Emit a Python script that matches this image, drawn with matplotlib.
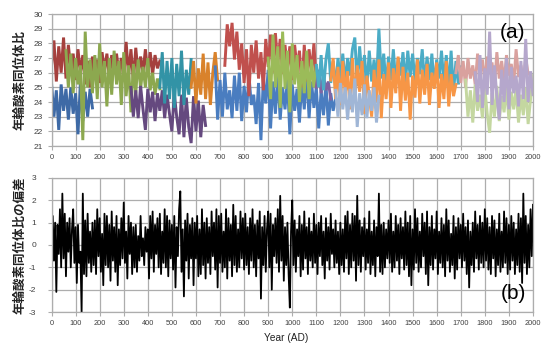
import numpy as np
import matplotlib
matplotlib.use('Agg')
import matplotlib.pyplot as plt

# --- (a) oxygen isotope ratio segments, 10-year readings ---
red1_start = 0
red1 = [26.5, 28.2, 25.4, 27.8, 26.0, 28.4, 25.6, 27.9, 26.2, 27.3,
        25.5, 27.6, 26.0, 27.2, 25.2, 26.8, 25.0, 27.1, 25.8, 26.9,
        25.3, 27.4, 26.1, 27.3, 25.7, 27.2, 25.9, 27.3, 26.0, 27.0,
        25.6, 28.1, 25.8, 27.6, 25.4, 27.7, 25.9, 27.1, 26.0, 27.6,
        25.8, 27.4, 25.9, 27.2, 26.3, 26.8]
blue1_start = 0
blue1 = [25.3, 23.0, 24.8, 22.1, 25.2, 23.4, 24.9, 22.8, 25.0, 23.2,
         24.6, 21.8, 25.4, 22.7, 24.7, 23.0, 24.9, 23.6]
green1_start = 60
green1 = [27.5, 25.0, 27.3, 24.6, 27.0, 25.2, 26.5, 21.4, 28.8, 25.0,
          26.9, 24.6, 27.2, 24.2, 28.0, 25.0, 26.8, 23.7, 27.0, 24.5,
          27.5, 25.2, 26.8, 23.8, 27.4, 24.4, 26.5, 23.3, 26.6, 24.6,
          26.9, 24.9, 26.4, 25.0, 27.0, 24.8, 26.0, 24.5, 25.6, 24.9]
purple1_start = 330
purple1 = [25.0, 23.0, 24.8, 22.9, 25.1, 23.5, 22.1, 24.9, 23.3, 24.7,
           22.7, 24.6, 23.4, 24.8, 22.9, 24.5, 23.2, 22.0, 24.6, 23.0,
           21.8, 24.5, 21.6, 24.3, 22.3, 21.2, 24.4, 22.0, 24.1, 21.6,
           23.8, 22.4]
teal1_start = 450
teal1 = [25.0, 27.4, 23.9, 26.8, 24.2, 27.0, 23.6, 26.6, 24.4, 27.5,
         23.8, 26.2, 24.5, 26.9]
orange1_start = 580
orange1 = [25.0, 26.8, 23.9, 26.3, 24.5, 27.3, 24.2, 26.7, 23.8, 26.0,
           27.4, 25.5]
blue2_start = 680
blue2 = [26.4, 22.8, 25.5, 23.0, 26.0, 23.5, 24.8, 22.9, 25.8, 23.4,
         26.0, 22.7, 25.1, 23.3, 25.9, 23.8, 24.5, 22.5, 25.3, 21.4,
         25.7, 23.9, 26.2, 22.2, 25.4, 23.2, 25.8, 22.8, 25.0, 23.5,
         25.6, 21.8, 25.2, 23.4, 24.9, 22.6, 25.5, 23.5, 26.0, 22.9,
         25.4, 23.6, 25.0, 22.2, 24.8, 23.1, 25.3, 22.4, 24.6, 23.4,
         24.2]
red2_start = 720
red2 = [26.5, 29.3, 27.8, 29.4, 26.9, 28.8, 26.2, 28.0, 25.3, 27.6,
        24.4, 27.9, 26.0, 28.2, 25.6, 27.4, 24.8, 28.3, 26.4, 28.6,
        26.0, 28.7, 26.6, 28.3, 25.9, 27.9, 26.2, 27.8, 25.5, 27.9,
        26.3, 27.5, 25.0, 27.9, 25.4, 27.6, 26.0, 28.0, 25.2]
green2_start = 900
green2 = [27.0, 24.2, 28.6, 25.0, 27.8, 23.6, 28.8, 24.9, 27.5, 23.3,
          28.0, 25.2, 27.2, 24.0, 26.8, 24.6, 27.5, 24.2, 26.9, 25.0,
          26.5]
purple2_start = 1100
purple2 = [25.0, 26.2, 24.6, 25.8, 24.8, 25.4, 24.2]
teal2_start = 1100
teal2 = [26.5, 25.0, 27.2, 24.8, 26.9, 28.0, 25.3, 26.8, 24.9, 27.0,
         25.5, 27.3, 25.2, 27.0, 25.8, 27.6, 28.4, 25.1, 27.8, 25.6,
         27.2, 25.0, 27.5, 25.4, 26.9, 25.2, 29.0, 25.6, 27.3, 25.0,
         27.1, 25.5, 27.6, 25.3, 27.0, 25.8, 27.4, 25.2, 27.5, 25.7,
         27.3, 25.4, 27.0, 25.9, 27.6, 25.2, 27.1, 25.5, 27.3, 25.0,
         26.9, 25.6, 27.5, 25.3, 27.2, 24.9, 27.5, 24.6, 26.8, 25.2,
         26.4]
orange2_start = 1160
orange2 = [25.5, 27.0, 24.2, 26.4, 23.8, 26.8, 24.5, 26.1, 23.5, 27.0,
           24.0, 26.5, 24.7, 26.8, 23.2, 25.8, 24.4, 23.0, 26.2, 24.0,
           26.9, 22.9, 25.9, 24.2, 26.7, 23.6, 26.3, 24.6, 27.1, 23.4,
           26.4, 24.1, 26.0, 22.8, 25.8, 24.3, 26.9, 23.9, 26.2, 24.5,
           26.6, 23.8, 26.0, 24.9, 26.7, 23.6, 25.9, 24.2, 26.8, 23.7,
           25.9, 24.4, 25.2]
lblue_start = 1180
lblue = [24.8, 23.0, 25.3, 23.5, 25.0, 22.8, 24.9, 23.3, 25.6, 22.3,
         24.6, 23.1, 25.2, 22.9, 24.8, 23.4, 25.0, 22.6, 24.4]
pink_start = 1680
pink = [26.0, 27.2, 25.3, 26.8, 25.0, 27.0, 25.6, 26.5, 25.2, 27.3,
        25.8, 26.9, 25.4, 27.1, 25.9, 26.7, 25.0, 27.4, 25.6, 26.8,
        25.3, 27.2, 25.8, 26.6, 25.2, 27.6, 25.7, 26.5, 25.4, 27.0,
        25.9]
lgreen_start = 1720
lgreen = [25.5, 23.0, 24.8, 22.6, 25.2, 23.4, 24.5, 22.9, 25.0, 23.2,
          21.9, 24.6, 23.0, 25.1, 22.7, 24.4, 23.3, 25.0, 22.8, 24.7,
          23.5, 24.9, 22.6, 24.5, 23.1, 25.0, 22.5, 24.2, 25.8]
lav_start = 1760
lav = [26.0, 24.0, 27.2, 23.6, 26.3, 24.5, 28.8, 23.8, 26.5, 24.4,
       22.8, 26.2, 24.0, 27.0, 23.5, 26.4, 24.6, 25.8, 23.7, 26.8,
       24.2, 28.3, 24.0, 26.1, 24.5]

# --- (b) deviation, 5-year readings from year 0 to 2000 ---
dev = [
    -1.4, 1.3, -0.7, 1.0, -2.1, 0.9, -0.4, 1.6, -1.0, 2.3, -0.6, 1.4, -1.4, 1.0, -0.3, 1.2, -1.0, 0.7, 1.6, -0.8,
    0.8, -1.7, 0.9, -0.8, -0.3, -3.0, 2.3, -1.3, 1.1, -1.4, 1.4, -0.8, 0.6, -1.2, 1.0, -0.9, 1.1, -1.3, 1.6, -0.5,
    1.2, -1.2, 0.5, -1.8, 1.4, -0.9, 1.3, -1.0, 0.9, -1.6, 1.5, -0.7, 0.8, -1.2, 1.3, -1.8, 0.7, -0.9, 1.2, -0.6,
    1.9, -0.8, 0.6, -1.5, 1.3, -0.4, 1.0, -1.3, 0.8, -1.0, 0.9, -1.2, 0.4, -0.7, 1.3, -0.5, 0.3, -0.9, 0.8, -0.3,
    0.7, -1.5, 1.3, -0.6, 1.5, -1.2, 0.9, -0.4, 1.2, -1.0, 1.4, -1.3, 0.6, -0.8, 1.6, -1.0, 1.3, -1.4, 1.1, -0.6,
    0.9, -1.1, 1.3, -1.9, 0.8, -0.5, 1.6, 2.4, -1.2, 0.7, -2.3, 1.1, -0.7, 1.4, -1.5, 0.9, -0.6, 1.2, -1.8, 1.0,
    -0.6, 1.3, -1.4, 0.7, -1.3, 1.6, -0.9, 1.0, -1.5, 1.2, -0.8, 0.8, -1.3, 1.5, -0.5, 1.0, -1.1, 1.6, -1.9, 1.3,
    -0.8, 1.4, -1.2, 0.6, -1.0, 1.6, -1.5, 1.2, -0.7, 0.9, -1.4, 1.8, -0.9, 1.3, -1.2, 0.7, -1.0, 1.5, -0.6, 1.2,
    -1.1, 1.4, -0.9, 0.8, -1.3, 1.2, -0.7, 1.6, -1.0, 0.9, -1.4, 1.1, -0.6, 1.5, -2.4, 0.8, -0.9, 1.3, -1.2, 0.7,
    1.5, -1.0, 1.4, -2.0, 0.9, -0.5, 1.2, -0.8, 1.6, -1.2, 2.2, -0.7, 1.3, -1.6, 0.8, -0.9, 1.0, -1.3, -2.8, 0.6,
    2.0, -0.9, 1.1, -1.2, 0.7, -0.5, 1.3, -1.4, 0.9, -1.1, 1.5, -0.6, 0.8, -1.3, 1.2, -0.7, 0.6, -1.0, 1.4, -0.8,
    0.9, -1.3, 1.0, -0.5, 1.3, -0.9, 0.6, -1.5, 1.2, -0.7, 0.8, -1.1, 1.4, -0.4, 0.7, -1.0, 1.1, -0.8, 0.6, -1.3,
    1.0, -0.9, 0.7, -1.2, 1.3, -0.6, 1.5, -1.3, 0.9, -1.0, 1.4, -0.7, 1.3, -1.6, 2.2, -0.9, 1.1, -1.2, 0.8, -0.5,
    1.2, -1.1, 0.7, -0.8, 1.5, -1.3, 0.6, -0.9, 1.1, -1.4, 0.8, -0.5, 2.3, -1.2, 0.9, -1.3, 1.0, -1.0, 0.7, -0.6,
    1.1, -0.8, 1.4, -1.2, 0.6, -1.0, 1.3, -0.7, 0.9, -1.3, 1.2, -0.6, 0.8, -1.1, 1.5, -0.9, 1.0, -1.4, 1.3, -1.8,
    0.7, -1.1, 1.6, -0.8, 1.2, -1.2, 0.6, -1.0, 1.4, -0.5, 1.0, -1.3, 1.5, -1.8, 0.8, -0.9, 1.3, -1.1, 0.7, -0.6,
    1.5, -1.3, 0.6, -0.8, 1.2, -1.0, 0.9, -1.4, 1.6, -0.7, 1.1, -1.2, 0.5, -0.9, 1.3, -1.5, 0.8, -1.1, 1.2, -0.6,
    0.9, -1.0, 1.4, -0.7, 0.8, -1.3, 1.1, -1.9, 0.6, -0.9, 1.0, -1.2, 1.5, -0.6, 0.9, -1.1, 1.3, -0.8, 1.0, -1.0,
    1.6, -0.7, 1.2, -1.1, 0.8, -1.3, 1.3, -0.6, 1.1, -1.4, 0.7, -0.9, 1.4, -1.2, 0.6, -1.0, 1.5, -0.8, 1.2, -1.3,
    0.9, -1.1, 1.3, -0.7, 1.0, -1.3, 0.7, -0.9, 1.4, -1.2, 1.2, -1.7, 2.3, -0.8, 1.3, -1.3, 0.9, -1.0, 1.6, -0.5,
    1.8]
dev_start = 0

xticks = list(range(0, 2001, 100))

series_a = [
    (red1_start, red1, '#A5403D'),
    (blue1_start, blue1, '#3E6AA6'),
    (green1_start, green1, '#8CA84F'),
    (purple1_start, purple1, '#65497F'),
    (teal1_start, teal1, '#3293A6'),
    (orange1_start, orange1, '#D9822B'),
    (blue2_start, blue2, '#4A7DC0'),
    (red2_start, red2, '#C0504D'),
    (green2_start, green2, '#9BBB59'),
    (purple2_start, purple2, '#8064A2'),
    (teal2_start, teal2, '#4BACC6'),
    (orange2_start, orange2, '#F79646'),
    (lblue_start, lblue, '#A0B6D6'),
    (pink_start, pink, '#D9A19E'),
    (lgreen_start, lgreen, '#C4D7A0'),
    (lav_start, lav, '#B5A7CC'),
]

jp = ['Noto Sans CJK JP', 'DejaVu Sans']
grid_c = '#ADADAD'
tick_c = '#404040'

fig = plt.figure(figsize=(5.44, 3.51), dpi=100)
ax1 = fig.add_axes([0.0947, 0.584, 0.885, 0.376])
ax2 = fig.add_axes([0.0947, 0.111, 0.885, 0.382])

for start, vals, c in series_a:
    yrs = start + 10 * np.arange(len(vals))
    ax1.plot(yrs, vals, color=c, lw=2.1, solid_joinstyle='miter')

yrs = dev_start + 5 * np.arange(len(dev))
ax2.plot(yrs, dev, color='black', lw=1.3)

for ax in (ax1, ax2):
    ax.set_xlim(0, 2000)
    ax.set_xticks(xticks)
    ax.set_xticklabels([str(v) for v in xticks], family='Liberation Sans',
                       fontsize=5.3, color=tick_c)
    ax.grid(True, color=grid_c, lw=0.9)
    ax.set_axisbelow(True)
    for s in ax.spines.values():
        s.set_color(grid_c)
        s.set_linewidth(0.9)
    ax.tick_params(length=3, color=grid_c, width=0.8, pad=3)

ax1.set_ylim(21, 30)
ax1.set_yticks(range(21, 31))
ax1.set_yticklabels([str(v) for v in range(21, 31)], family='Liberation Sans',
                    fontsize=6, color=tick_c)
ax2.set_ylim(-3, 3)
ax2.set_yticks(range(-3, 4))
ax2.set_yticklabels([str(v) for v in range(-3, 4)], family='Liberation Sans',
                    fontsize=6, color=tick_c)
ax2.tick_params(axis='y', pad=8)

fig.text(0.037, 0.7735, '年輪酸素同位体比', rotation=90, ha='center', va='center',
         family=jp, fontsize=9, fontweight='bold', color='#222222')
fig.text(0.037, 0.302, '年輪酸素同位体比の偏差', rotation=90, ha='center', va='center',
         family=jp, fontsize=9, fontweight='bold', color='#222222')
fig.text(0.526, 0.037, 'Year (AD)', ha='center', va='center',
         family='Liberation Sans', fontsize=7.3, color='#222222')
ax1.text(0.985, 0.86, '(a)', transform=ax1.transAxes, ha='right', va='center',
         family='Liberation Sans', fontsize=15)
ax2.text(0.985, 0.14, '(b)', transform=ax2.transAxes, ha='right', va='center',
         family='Liberation Sans', fontsize=15)

fig.savefig('out.png', dpi=100)
